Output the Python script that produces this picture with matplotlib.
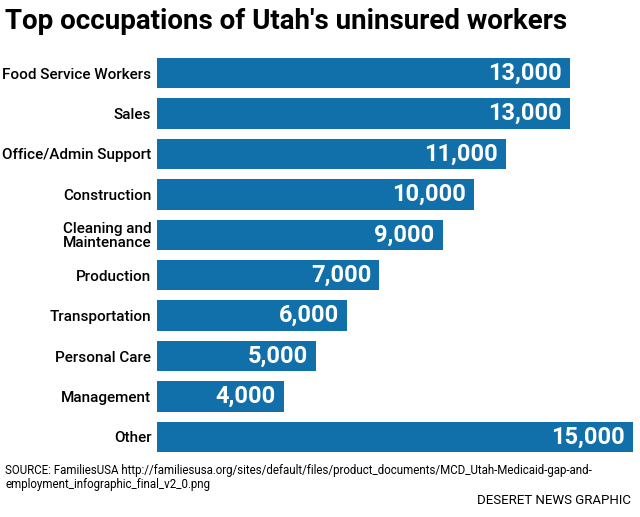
import matplotlib
matplotlib.use("Agg")
import matplotlib.pyplot as plt

categories = ["Food Service Workers", "Sales", "Office/Admin Support", "Construction",
              "Cleaning and\nMaintenance", "Production", "Transportation",
              "Personal Care", "Management", "Other"]
values = [13000, 13000, 11000, 10000, 9000, 7000, 6000, 5000, 4000, 15000]
value_labels = ["13,000", "13,000", "11,000", "10,000", "9,000", "7,000",
                "6,000", "5,000", "4,000", "15,000"]

plt.rcParams['font.family'] = ['Roboto', 'DejaVu Sans']
fig = plt.figure(figsize=(6.4, 5.17), dpi=100)
ax = fig.add_axes([157/640, 1-457/517, 476/640, 404/517])
color = "#1170aa"
y = list(range(len(categories)))
ax.barh(y, values, height=0.75, color=color)
ax.set_xlim(0, 15000)
ax.set_ylim(len(categories)-0.5, -0.5)
for i, (v, lab) in enumerate(zip(values, value_labels)):
    ax.text(v - 250, i, lab, color="white", fontsize=17, fontweight="bold",
            ha="right", va="center")
ax.set_yticks(y)
ax.set_yticklabels(categories, fontsize=11, ha="right", linespacing=0.95, fontweight="medium")
ax.tick_params(axis="y", length=0, pad=4)
ax.set_xticks([])
for s in ax.spines.values():
    s.set_visible(False)

fig.text(0.008, 0.985, "Top occupations of Utah's uninsured workers", fontsize=20,
         fontweight="bold", va="top", ha="left")
fig.text(0.008, 1-464/517, "SOURCE: FamiliesUSA http://familiesusa.org/sites/default/files/product_documents/MCD_Utah-Medicaid-gap-and-\nemployment_infographic_final_v2_0.png",
         fontsize=8.3, va="top", ha="left", linespacing=1.1)
fig.text(0.985, 0.02, "DESERET NEWS GRAPHIC", fontsize=9.5, va="bottom", ha="right")
fig.savefig("out.png", dpi=100)
